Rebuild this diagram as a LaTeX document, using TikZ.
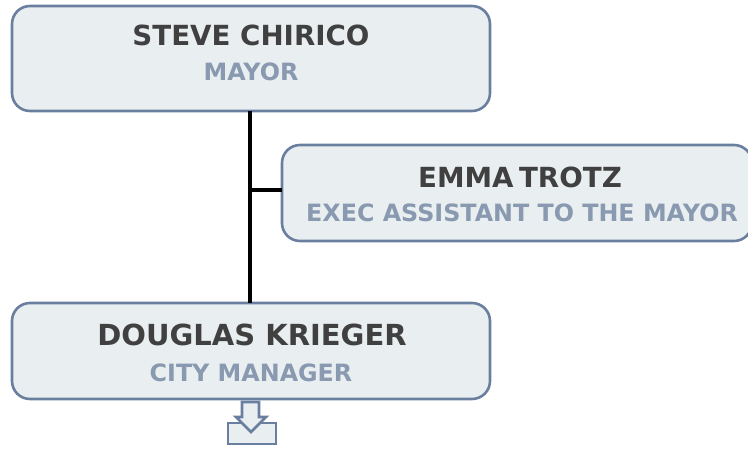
\documentclass[tikz,border=0pt]{standalone}
\usepackage{fontspec}
\setmainfont{DejaVu Sans}
\definecolor{boxfill}{HTML}{E9EEF1}
\definecolor{boxline}{HTML}{6A7FA0}
\definecolor{namecol}{HTML}{404040}
\definecolor{titlecol}{HTML}{8899B0}
\tikzset{
  card/.style={draw=boxline, line width=2.6pt, fill=boxfill, rounded corners=18pt},
  nametext/.style={text=namecol, font=\bfseries\fontsize{27.7}{28}\selectfont, inner sep=0pt},
  titletext/.style={text=titlecol, font=\bfseries\fontsize{23.8}{24}\selectfont, inner sep=0pt},
  link/.style={draw=black, line width=3.6pt},
}
\begin{document}
\begin{tikzpicture}[x=1pt,y=-1pt]
\useasboundingbox (0,0) rectangle (748,448);
% boxes
\path[card] (12,6) rectangle (490,111);
\path[card] (282,145) rectangle (752,241);
\path[card] (12,303) rectangle (490,399);
\coordinate (mayorbot) at (250,111);
\coordinate (mgrtop) at (250,303);
\coordinate (branch) at (250,190);
\coordinate (asstleft) at (282,190);
\draw[link] (mayorbot) -- (mgrtop);
\draw[link] (branch) -- (asstleft);
% texts
\node[nametext] (n1) at (251,35.5) {STEVE CHIRICO};
\node[titletext] (t1) at (251,72) {MAYOR};
\node[nametext] (n2) at (520,177) {EMMA\hspace{-0.15em} TROTZ};
\node[titletext] (t2) at (522,213) {EXEC ASSISTANT TO THE MAYOR};
\node[nametext, font=\bfseries\fontsize{29}{29}\selectfont] (n3) at (252,335) {DOUGLAS KRIEGER};
\node[titletext] (t3) at (251,372.5) {CITY MANAGER};
% expand icon
\path[draw=boxline, line width=2.8pt, fill=boxfill] (228,423) rectangle (276,444);
\path[draw=boxline, line width=2.8pt, fill=boxfill, line join=miter]
  (242,402) -- (259,402) -- (259,417) -- (266,417) -- (251,432) -- (236,417) -- (242,417) -- cycle;
\end{tikzpicture}
\end{document}
